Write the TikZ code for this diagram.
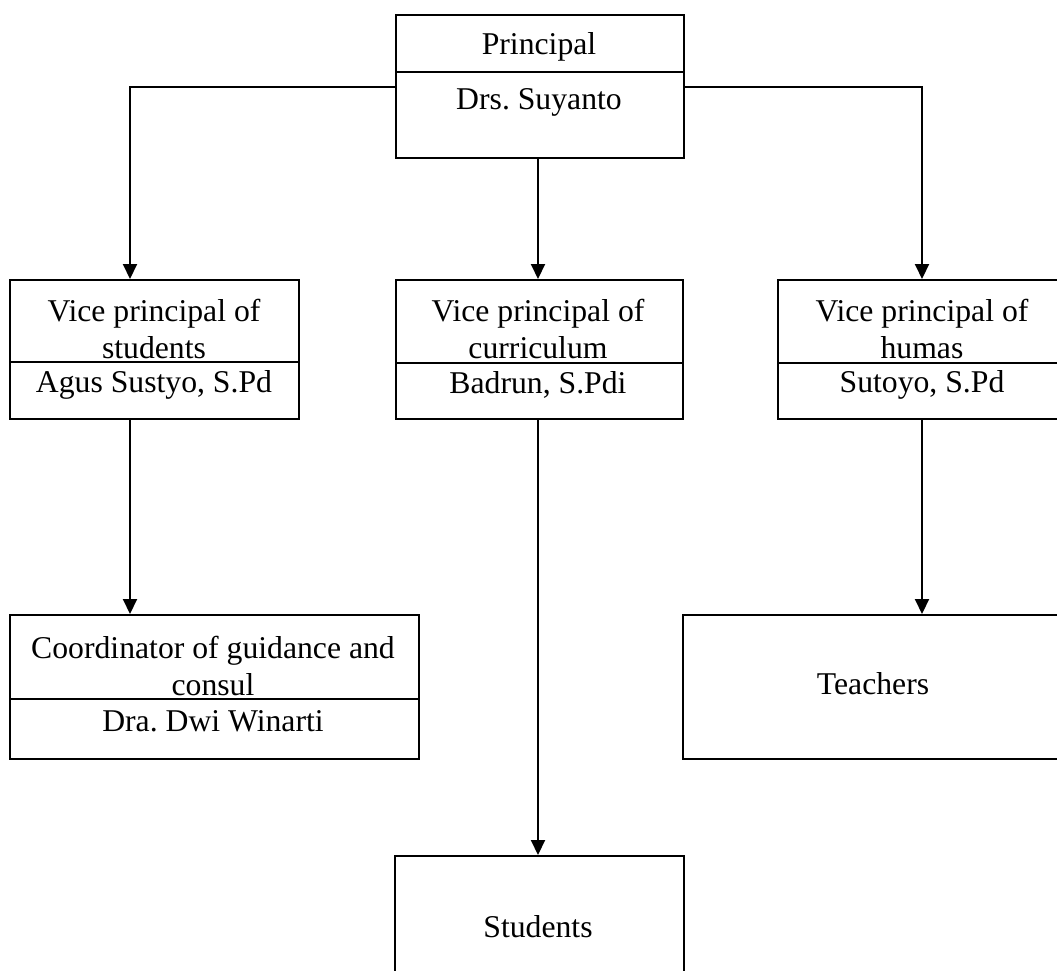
\documentclass[tikz,border=0pt]{standalone}
\usepackage{fontspec}
\setmainfont{Liberation Serif}
\usetikzlibrary{arrows.meta}
\frenchspacing
\begin{document}
\begin{tikzpicture}[x=1pt,y=-1pt,
  box/.style={draw, line width=2pt, inner sep=0pt, anchor=north west},
  lbl/.style={font=\fontsize{31.7}{37}\selectfont, align=center, inner sep=0pt},
  conn/.style={line width=2pt},
  arr/.style={conn, -{Triangle[width=14pt,length=15pt]}}]
\useasboundingbox (0,0) rectangle (1057,970);
\begin{scope}
\clip (0,0) rectangle (1057,970);
% boxes
\node[box, minimum width=288pt, minimum height=143pt] (P) at (395,14) {};
\node[box, minimum width=289pt, minimum height=139pt] (VS) at (9,279) {};
\node[box, minimum width=287pt, minimum height=139pt] (VC) at (395,279) {};
\node[box, minimum width=290pt, minimum height=139pt] (VH) at (777,279) {};
\node[box, minimum width=409pt, minimum height=144pt] (C) at (9,614) {};
\node[box, minimum width=382pt, minimum height=144pt] (T) at (682,614) {};
\node[box, minimum width=289pt, minimum height=150pt] (S) at (394,855) {};
% dividers
\draw[conn] (395,72) -- (683,72);
\draw[conn] (9,362) -- (298,362);
\draw[conn] (395,363) -- (682,363);
\draw[conn] (777,363) -- (1067,363);
\draw[conn] (9,699) -- (418,699);
% texts
\node[lbl] (tP1) at (539,47) {Principal};
\node[lbl] (tP2) at (539,102) {Drs.\ Suyanto};
\node[lbl] (tVS1) at (154,329) {Vice principal of\\students};
\node[lbl] (tVS2) at (154,385) {Agus Sustyo, S.Pd};
\node[lbl] (tVC1) at (538,329) {Vice principal of\\curriculum};
\node[lbl] (tVC2) at (538,385) {Badrun, S.Pdi};
\node[lbl] (tVH1) at (922,329) {Vice principal of\\humas};
\node[lbl] (tVH2) at (922,385) {Sutoyo, S.Pd};
\node[lbl] (tC1) at (213,666) {Coordinator of guidance and\\consul};
\node[lbl] (tC2) at (213,721) {Dra.\ Dwi Winarti};
\node[lbl] (tT) at (873,684) {Teachers};
\node[lbl] (tS) at (538,927) {Students};
% connectors
\coordinate (aL) at (130,0);
\coordinate (aC) at (538,0);
\coordinate (aR) at (922,0);
\draw[arr] (P.west) -| (VS.north -| aL);
\draw[arr] (P.east) -| (VH.north -| aR);
\draw[arr] (P.south -| aC) -- (VC.north -| aC);
\draw[arr] (VS.south -| aL) -- (C.north -| aL);
\draw[arr] (VC.south -| aC) -- (S.north -| aC);
\draw[arr] (VH.south -| aR) -- (T.north -| aR);
\end{scope}
\end{tikzpicture}
\end{document}
